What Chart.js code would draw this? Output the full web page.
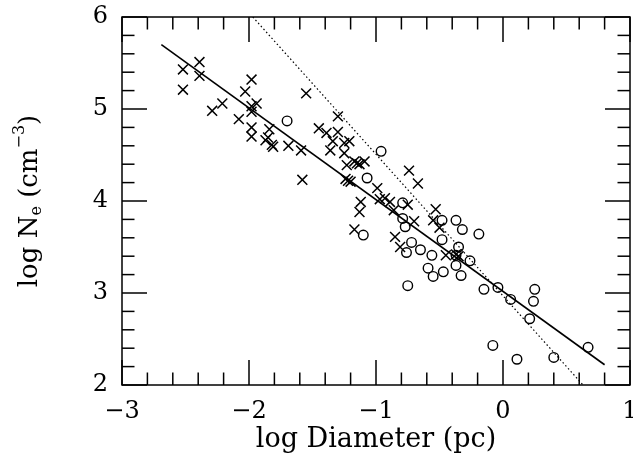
<!DOCTYPE html>
<html><head><meta charset="utf-8">
<script src="https://cdn.jsdelivr.net/npm/chart.js@4/dist/chart.umd.min.js"></script>
<style>html,body{margin:0;padding:0;background:#fff}#wrap{width:633px;height:456px}</style>
</head><body><div id="wrap"><canvas id="c" width="633" height="456"></canvas></div>
<script>
// ---- data ----
const xTickLabels = [-3, -2, -1, 0, 1];
const yTickLabels = [2, 3, 4, 5, 6];
const crossX = [-2.52,-2.39,-2.39,-2.52,-2.29,-2.21,-1.98,-2.03,-1.98,-1.94,-1.98,-2.08,-1.98,-1.98,-1.84,-1.85,-1.87,-1.82,-1.81,-1.69,-1.59,-1.58,-1.55,-1.30,-1.45,-1.39,-1.30,-1.34,-1.36,-1.25,-1.21,-1.25,-1.23,-1.15,-1.17,-1.13,-1.09,-1.22,-1.24,-1.20,-0.99,-0.93,-0.97,-0.89,-1.12,-1.13,-1.17,-0.74,-0.67,-0.86,-0.75,-0.53,-0.55,-0.50,-0.70,-0.85,-0.81,-0.45,-0.37,-0.35];
const crossY = [5.43,5.51,5.36,5.21,4.98,5.06,5.32,5.19,5.03,5.06,4.97,4.89,4.80,4.70,4.78,4.69,4.66,4.61,4.59,4.60,4.55,4.23,5.17,4.92,4.79,4.74,4.75,4.65,4.55,4.63,4.65,4.52,4.39,4.41,4.43,4.40,4.43,4.22,4.24,4.21,4.14,4.03,4.02,3.99,3.99,3.88,3.69,4.33,4.19,3.90,3.96,3.91,3.79,3.71,3.78,3.61,3.50,3.41,3.42,3.40];
const circleX = [-1.70,-0.96,-1.07,-1.10,-0.79,-0.79,-0.77,-0.72,-0.76,-0.65,-0.75,-0.56,-0.59,-0.55,-0.48,-0.48,-0.47,-0.37,-0.32,-0.19,-0.35,-0.37,-0.37,-0.26,-0.33,-0.15,-0.04,0.06,0.25,0.24,0.21,-0.08,0.11,0.40,0.67];
const circleY = [4.87,4.54,4.25,3.63,3.98,3.81,3.72,3.55,3.44,3.47,3.08,3.41,3.27,3.18,3.79,3.58,3.23,3.79,3.69,3.64,3.50,3.41,3.30,3.35,3.19,3.04,3.06,2.93,3.04,2.91,2.72,2.43,2.28,2.30,2.41];
const fitX = [-2.69, 0.80];
const fitY = [5.70, 2.22];
const dotX = [-1.97, 0.63];
const dotY = [6.00, 2.00];

const pts = (xs, ys) => xs.map((v, i) => ({x: v, y: ys[i]}));
const FONT = "'DejaVu Serif', serif";
const fmt = v => (v < 0 ? '\u2212' + Math.abs(v) : String(v));

const framePlugin = {
  id: 'frame',
  afterDatasetsDraw(chart) {
    const {ctx, chartArea: a, scales: {x, y}} = chart;
    ctx.save();
    ctx.strokeStyle = '#000';
    ctx.lineWidth = 1.5;
    ctx.strokeRect(a.left, a.top, a.right - a.left, a.bottom - a.top);
    const seg = (x1, y1, x2, y2) => { ctx.beginPath(); ctx.moveTo(x1, y1); ctx.lineTo(x2, y2); ctx.stroke(); };
    const xs = xTickLabels[0], xe = xTickLabels[xTickLabels.length - 1];
    for (let i = 0; i <= (xe - xs) * 5; i++) {
      const px = x.getPixelForValue(xs + i * 0.2);
      const L = i % 5 === 0 ? 25 : 12.5;
      seg(px, a.bottom, px, a.bottom - L);
      seg(px, a.top, px, a.top + L);
    }
    const ys = yTickLabels[0], ye = yTickLabels[yTickLabels.length - 1];
    for (let i = 0; i <= (ye - ys) * 5; i++) {
      const py = y.getPixelForValue(ys + i * 0.2);
      const L = i % 5 === 0 ? 25 : 12.5;
      seg(a.left, py, a.left + L, py);
      seg(a.right, py, a.right - L, py);
    }
    ctx.restore();
  },
  afterDraw(chart) {
    const {ctx, chartArea: a} = chart;
    ctx.save();
    ctx.fillStyle = '#000';
    ctx.translate(37, (a.top + a.bottom) / 2);
    ctx.rotate(-Math.PI / 2);
    ctx.textBaseline = 'alphabetic';
    const big = '26px ' + FONT, small = '16px ' + FONT;
    const parts = [
      {t: 'log N', f: big, dy: 0},
      {t: 'e', f: small, dy: 4},
      {t: ' (cm', f: big, dy: 0},
      {t: '\u22123', f: small, dy: -13},
      {t: ')', f: big, dy: 0}
    ];
    let total = 0;
    parts.forEach(p => { ctx.font = p.f; p.w = ctx.measureText(p.t).width; total += p.w; });
    let cx = -total / 2;
    parts.forEach(p => { ctx.font = p.f; ctx.fillText(p.t, cx, p.dy); cx += p.w; });
    ctx.restore();
  }
};

new Chart(document.getElementById('c'), {
  type: 'scatter',
  data: {
    datasets: [
      {label: 'crosses', data: pts(crossX, crossY), pointStyle: 'crossRot', radius: 7, borderColor: '#000', borderWidth: 1.5, backgroundColor: '#000'},
      {label: 'circles', data: pts(circleX, circleY), pointStyle: 'circle', radius: 4.8, borderColor: '#000', borderWidth: 1.4, backgroundColor: 'rgba(0,0,0,0)'},
      {label: 'fit', type: 'line', data: pts(fitX, fitY), showLine: true, borderColor: '#000', borderWidth: 1.6, pointRadius: 0, fill: false},
      {label: 'dotted', type: 'line', data: pts(dotX, dotY), showLine: true, borderColor: '#000', borderWidth: 1.2, borderDash: [1.5, 2.5], pointRadius: 0, fill: false}
    ]
  },
  options: {
    responsive: false, animation: false, devicePixelRatio: 1,
    layout: {autoPadding: false, padding: {top: 17, right: 3, left: 0, bottom: 0}},
    plugins: {legend: {display: false}, tooltip: {enabled: false}},
    scales: {
      x: {
        type: 'linear', min: xTickLabels[0], max: xTickLabels[xTickLabels.length - 1],
        afterBuildTicks: s => { s.ticks = xTickLabels.map(v => ({value: v})); },
        grid: {display: false, drawTicks: false}, border: {display: false},
        ticks: {callback: fmt, color: '#000', font: {family: FONT, size: 24}, padding: 12, maxRotation: 0},
        title: {display: true, text: 'log Diameter (pc)', color: '#000', font: {family: FONT, size: 27}, padding: {top: 0, bottom: 0}},
        afterFit: s => { s.height = 71; s.paddingLeft = 0; s.paddingRight = 0; }
      },
      y: {
        type: 'linear', min: yTickLabels[0], max: yTickLabels[yTickLabels.length - 1],
        afterBuildTicks: s => { s.ticks = yTickLabels.map(v => ({value: v})); },
        grid: {display: false, drawTicks: false}, border: {display: false},
        ticks: {callback: fmt, color: '#000', font: {family: FONT, size: 24}, padding: 14},
        afterFit: s => { s.width = 122; s.paddingTop = 0; s.paddingBottom = 0; }
      }
    }
  },
  plugins: [framePlugin]
});
</script>
</body></html>
